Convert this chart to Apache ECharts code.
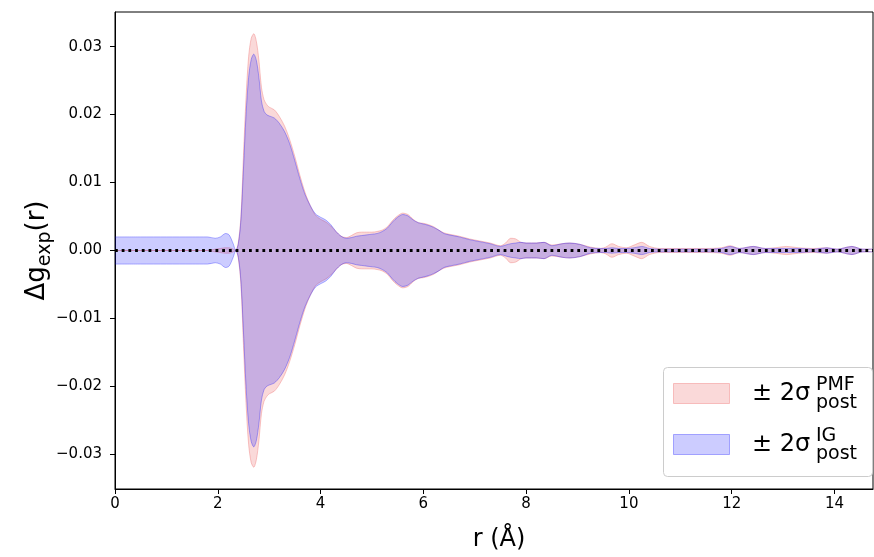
<!DOCTYPE html>
<html>
<head>
<meta charset="utf-8">
<script src="https://cdn.jsdelivr.net/npm/echarts@6/dist/echarts.min.js"></script>
<style>
html,body{margin:0;padding:0;background:#fff;}
#chart{width:874px;height:557px;}
</style>
</head>
<body>
<div id="chart"></div>
<script>
// r values (Å)
const r = [0.0,0.5,1.0,1.5,1.8,1.95,2.05,2.15,2.22,2.3,2.35,2.4,2.45,2.5,2.55,2.6,2.65,2.7,2.75,2.8,2.85,2.9,2.95,3.0,3.1,3.2,3.3,3.4,3.5,3.6,3.7,3.8,3.9,4.0,4.1,4.2,4.3,4.4,4.5,4.6,4.7,4.8,4.9,5.0,5.1,5.2,5.3,5.4,5.5,5.6,5.7,5.8,5.9,6.0,6.1,6.2,6.3,6.4,6.5,6.7,6.9,7.1,7.3,7.5,7.6,7.7,7.8,7.9,8.0,8.2,8.35,8.5,8.7,8.85,9.05,9.25,9.45,9.55,9.67,9.8,9.95,10.1,10.25,10.4,10.6,11.0,11.5,11.8,11.97,12.15,12.42,12.65,12.85,13.07,13.3,13.6,13.85,14.05,14.34,14.55,14.75];
// half-width of the ±2σ band, PMF posterior
const pmfHalf = [0,0,0,0,0,0.0002,0.0003,0.0004,0.0004,0.0002,0,0.0012,0.005,0.014,0.0225,0.0285,0.0312,0.0319,0.0308,0.028,0.024,0.0222,0.0215,0.0211,0.0207,0.0197,0.0183,0.0163,0.0138,0.011,0.0085,0.0066,0.0052,0.0046,0.0042,0.0036,0.0028,0.0021,0.0019,0.0022,0.0026,0.0027,0.0027,0.0027,0.0028,0.003,0.0035,0.0044,0.0051,0.0055,0.0053,0.0046,0.0041,0.004,0.0038,0.0035,0.003,0.0026,0.0024,0.0021,0.0017,0.0014,0.0011,0.0007,0.0011,0.0018,0.0017,0.0012,0.0011,0.0011,0.0012,0.0008,0.001,0.0011,0.0009,0.0005,0.0003,0.0005,0.001,0.0006,0.0004,0.0008,0.0012,0.0006,0.0003,0.0003,0.0003,0.0004,0.0007,0.0003,0.0006,0.0003,0.0004,0.0006,0.0004,0.0003,0.0004,0.0002,0.0006,0.0002,0.0002];
// half-width of the ±2σ band, IG posterior
const igHalf = [0.002,0.002,0.002,0.002,0.002,0.0018,0.002,0.0025,0.0023,0.001,0,0.001,0.0045,0.012,0.02,0.0255,0.0281,0.0289,0.028,0.0255,0.022,0.0205,0.02,0.0198,0.0195,0.0187,0.0175,0.0157,0.0132,0.0105,0.0082,0.0066,0.0054,0.0049,0.0045,0.0038,0.0028,0.0021,0.0018,0.0019,0.0021,0.0022,0.0023,0.0024,0.0025,0.0028,0.0033,0.0042,0.0049,0.0053,0.0051,0.0045,0.0041,0.0039,0.0037,0.0034,0.003,0.0025,0.0023,0.002,0.0016,0.0013,0.001,0.0006,0.0008,0.001,0.0011,0.0012,0.0011,0.0011,0.0012,0.0007,0.001,0.0011,0.0009,0.0004,0.0003,0.0003,0.0004,0.0003,0.0003,0.0004,0.0006,0.0003,0.0002,0.0002,0.0002,0.0003,0.0006,0.0003,0.0006,0.0003,0.0003,0.0003,0.0003,0.0002,0.0004,0.0002,0.0006,0.0002,0.0002];
const xTicks = [0,2,4,6,8,10,12,14];
const yTicks = [-0.03,-0.02,-0.01,0,0.01,0.02,0.03];

const pmfFill = 'rgba(240,128,128,0.3)';
const pmfEdge = 'rgba(240,128,128,0.45)';
const igFill = 'rgba(0,0,255,0.2)';
const igEdge = 'rgba(0,0,255,0.3)';

const upper = h => r.map((x,i)=>[x,h[i]]);
const lower = h => r.map((x,i)=>[x,-h[i]]);

const font = 'DejaVu Sans';
const chart = echarts.init(document.getElementById('chart'), null, {renderer:'canvas'});

function band(name, h, fill, edge, z){
  const base = {type:'line', smooth:0.3, symbol:'none', z:z, silent:true,
    lineStyle:{color:edge, width:1}, areaStyle:{color:fill, opacity:1, origin:0}};
  return [
    Object.assign({name:name, data:upper(h)}, base),
    Object.assign({name:name+'_low', data:lower(h)}, base)
  ];
}

function legendEntry(y, col, edge, sup){
  return [
    {type:'rect', shape:{x:673.5,y:y,width:56,height:20}, style:{fill:col, stroke:edge, lineWidth:1}},
    {type:'text', style:{x:752, y:y+10, text:'± 2σ', font:'24px "DejaVu Sans"', fill:'#000', verticalAlign:'middle'}},
    {type:'text', style:{x:816, y:y+2, text:sup, font:'19px "DejaVu Sans"', fill:'#000', verticalAlign:'middle'}},
    {type:'text', style:{x:816, y:y+20, text:'post', font:'19px "DejaVu Sans"', fill:'#000', verticalAlign:'middle'}}
  ];
}

chart.setOption({
  animation:false,
  grid:{left:115, right:1, top:12, bottom:67, show:true, borderColor:'#000', borderWidth:1, backgroundColor:'transparent'},
  xAxis:{
    type:'value', min:0, max:14.75,
    axisLine:{show:true, onZero:false, lineStyle:{color:'#000', width:1}},
    axisTick:{show:true, length:5, lineStyle:{color:'#000'}, customValues:xTicks},
    axisLabel:{color:'#000', fontSize:15, fontFamily:font, margin:8, customValues:xTicks},
    splitLine:{show:false},
    name:'r (Å)', nameLocation:'middle', nameGap:39, nameMoveOverlap:false,
    nameTextStyle:{fontSize:24, fontFamily:font, color:'#000', padding:[0,0,0,10]}
  },
  yAxis:{
    type:'value', min:-0.0351, max:0.0351,
    axisLine:{show:true, onZero:false, lineStyle:{color:'#000', width:1}},
    axisTick:{show:true, length:5, lineStyle:{color:'#000'}, customValues:yTicks},
    axisLabel:{color:'#000', fontSize:15, fontFamily:font, margin:13, customValues:yTicks,
      formatter: v => (v < -1e-9 ? '−' : '') + Math.abs(v).toFixed(2)},
    splitLine:{show:false},
    name:'{a|Δg}{s|exp}{a|(r)}', nameLocation:'middle', nameGap:60, nameRotate:90, nameMoveOverlap:false,
    nameTextStyle:{fontFamily:font, color:'#000',
      rich:{a:{fontSize:26, fontFamily:font, lineHeight:36, color:'#000'},
            s:{fontSize:19, fontFamily:font, lineHeight:19, verticalAlign:'bottom', color:'#000'}}}
  },
  series:[
    ...band('pmf', pmfHalf, pmfFill, pmfEdge, 2),
    ...band('ig', igHalf, igFill, igEdge, 3),
    {name:'zero', type:'line', data:[[r[0],0],[r[r.length-1],0]], symbol:'none', silent:true,
     lineStyle:{color:'#000', width:2.8, type:[2.8,3.9]}, z:5}
  ],
  graphic:[
    {type:'rect', shape:{x:663.5,y:367.5,width:209,height:109,r:4}, style:{fill:'rgba(255,255,255,0.8)', stroke:'#cccccc', lineWidth:1}, z:100},
    ...legendEntry(383.5, pmfFill, pmfEdge, 'PMF').map(e=>Object.assign(e,{z:101})),
    ...legendEntry(434.5, igFill, igEdge, 'IG').map(e=>Object.assign(e,{z:101}))
  ]
});
</script>
</body>
</html>
